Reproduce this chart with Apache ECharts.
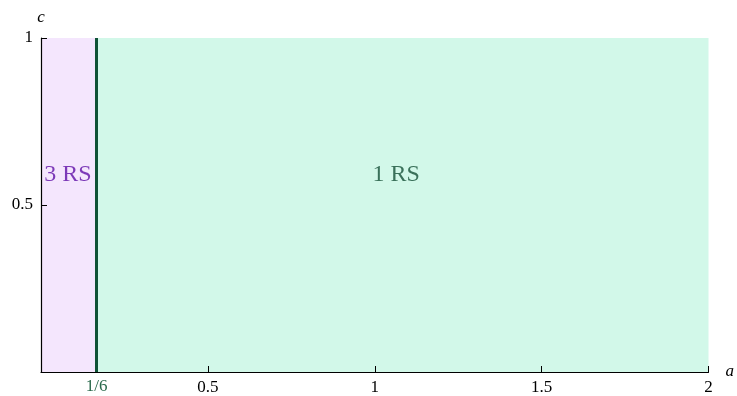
<!DOCTYPE html>
<html>
<head>
<meta charset="utf-8">
<script src="https://cdn.jsdelivr.net/npm/echarts@6/dist/echarts.min.js"></script>
<style>
  html, body { margin: 0; padding: 0; background: #ffffff; }
  #chart { width: 737px; height: 396px; }
</style>
</head>
<body>
<div id="chart"></div>
<script>
// Parameter plane: a on the horizontal axis, c on the vertical axis
const xRange = [0, 2];
const yRange = [0, 1];
const boundary = 1 / 6;            // a value separating the two regimes
const boundaryLabel = '1/6';
const regions = [
  { name: '3 RS', from: 0, to: boundary },
  { name: '1 RS', from: boundary, to: 2 }
];
// where each region's label sits (a, c)
const regionLabelPos = [[0.081, 0.59], [1.064, 0.59]];

const serif = '"Liberation Serif", "DejaVu Serif", serif';
const regionFill = ['#f4e6fd', '#d2f8e9'];
const regionText = ['#5e0ea6', '#144f36'];

const chart = echarts.init(document.getElementById('chart'));

const axisCommon = {
  z: 5,
  axisLine: { show: true, lineStyle: { color: '#000', width: 1.2 } },
  axisTick: { show: true, inside: true, length: 6, lineStyle: { color: '#000', width: 1 } },
  splitLine: { show: false },
  nameTextStyle: { fontFamily: serif, fontStyle: 'italic', fontSize: 17, color: '#000' }
};

chart.setOption({
  backgroundColor: '#ffffff',
  animation: false,
  grid: { left: 41, right: 27, top: 38, bottom: 24 },
  xAxis: Object.assign({}, axisCommon, {
    type: 'value',
    min: xRange[0], max: xRange[1], interval: 0.5,
    name: 'a', nameLocation: 'end', nameGap: 17,
    nameTextStyle: Object.assign({}, axisCommon.nameTextStyle, { verticalAlign: 'middle', padding: [16, 0, 0, 0] }),
    axisLabel: {
      margin: 7, fontFamily: serif, fontSize: 17, color: '#000',
      formatter: v => (v === 0 ? '' : String(v))
    }
  }),
  yAxis: Object.assign({}, axisCommon, {
    type: 'value',
    min: yRange[0], max: yRange[1], interval: 0.5,
    name: 'c', nameLocation: 'end', nameGap: 12,
    nameTextStyle: Object.assign({}, axisCommon.nameTextStyle, { align: 'center' }),
    axisLabel: {
      margin: 8, fontFamily: serif, fontSize: 17, color: '#000',
      formatter: v => (v === 0 ? '' : String(v))
    }
  }),
  series: [
    {
      type: 'line',
      data: [],
      silent: true,
      markArea: {
        silent: true,
        label: { show: false },
        data: regions.map((r, i) => [
          { xAxis: r.from, yAxis: yRange[0], itemStyle: { color: regionFill[i], opacity: 1 } },
          { xAxis: r.to, yAxis: yRange[1] }
        ])
      },
      markLine: {
        silent: true,
        symbol: 'none',
        lineStyle: { color: '#0f5236', width: 3, type: 'solid', opacity: 1 },
        label: {
          show: true, position: 'start', distance: 6,
          formatter: boundaryLabel,
          fontFamily: serif, fontSize: 17, color: '#2a6a4c'
        },
        data: [[{ coord: [boundary, yRange[0]] }, { coord: [boundary, yRange[1]] }]]
      }
    },
    {
      type: 'scatter',
      silent: true,
      symbolSize: 0,
      z: 10,
      data: regions.map((r, i) => ({
        value: regionLabelPos[i],
        label: { color: regionText[i] }
      })),
      label: {
        show: true, position: 'inside',
        formatter: p => regions[p.dataIndex].name,
        fontFamily: serif, fontSize: 24,
        textBorderWidth: 0, textShadowBlur: 0
      }
    }
  ]
});
</script>
</body>
</html>
